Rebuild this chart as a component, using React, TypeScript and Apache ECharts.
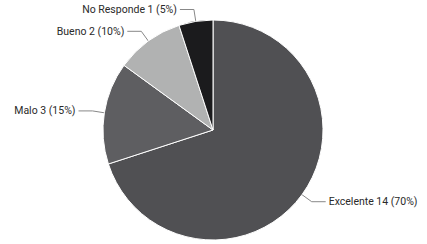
import React, { useEffect, useRef } from "react";
import * as echarts from "echarts";

const categories = ["Excelente", "Malo", "Bueno", "No Responde"];
const values = [14, 3, 2, 1];
const colors = ["#505053", "#5e5e61", "#b1b2b2", "#1b1b1d"];

export default function App() {
  const ref = useRef<HTMLDivElement>(null);
  useEffect(() => {
    if (!ref.current) return;
    const chart = echarts.init(ref.current, null, { renderer: "svg" });
    const total = values.reduce((a, b) => a + b, 0);
    chart.setOption({
      animation: false,
      backgroundColor: "#ffffff",
      series: [
        {
          type: "pie",
          center: [213, 130],
          radius: 110,
          startAngle: 90,
          clockwise: true,
          data: categories.map((c, i) => ({
            name: c,
            value: values[i],
            itemStyle: { color: colors[i] },
          })),
          itemStyle: { borderColor: "#ffffff", borderWidth: 1 },
          label: {
            show: true,
            formatter: (p: any) =>
              `${p.name} ${p.value} (${Math.round((p.value / total) * 100)}%)`,
            color: "#2a2a2a",
            fontSize: 10.5,
            fontFamily: "Roboto",
            distanceToLabelLine: 3,
            overflow: "none",
            width: 200,
          },
          labelLine: {
            show: true,
            length: 12,
            length2: 14,
            lineStyle: { color: "#888888", width: 1 },
          },
        },
      ],
    });
    return () => chart.dispose();
  }, []);
  return (
    <div
      ref={ref}
      style={{ position: "fixed", left: 0, top: 0, width: 427, height: 244 }}
    />
  );
}
